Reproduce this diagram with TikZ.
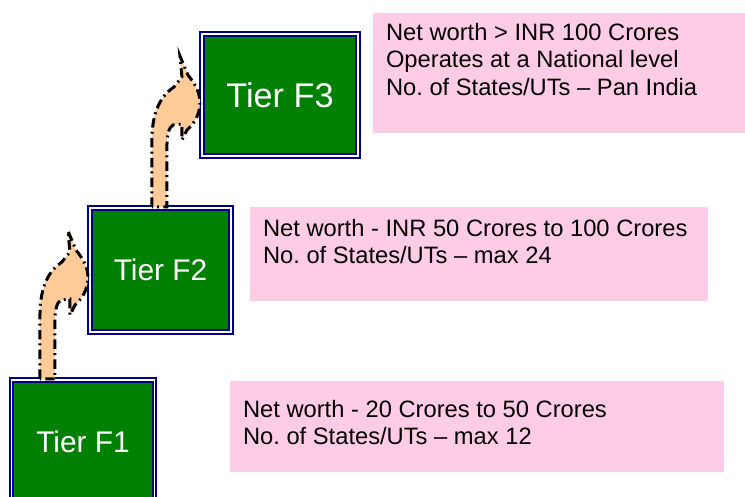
\documentclass[tikz,border=0pt]{standalone}
\usepackage{fontspec}
\setmainfont{Liberation Sans}
\usetikzlibrary{calc}
\definecolor{tiergreen}{RGB}{0,128,0}
\definecolor{tiernavy}{RGB}{0,0,128}
\definecolor{infopink}{RGB}{255,204,230}
\definecolor{arrowpeach}{RGB}{255,204,153}
\frenchspacing

\begin{document}
\begin{tikzpicture}[x=0.02cm,y=-0.02cm,
  tierbox/.style={draw=tiernavy,line width=1.2pt,double=white,double distance=0.8pt,fill=tiergreen,inner sep=0pt,text=white},
  infobox/.style={fill=infopink,inner sep=0pt},
  infotext/.style={font=\fontsize{13.5}{15.7}\selectfont,align=left,inner sep=0pt,anchor=north west},
  tierarrow/.style={fill=arrowpeach,draw=black,line width=1.7pt,dash pattern=on 5.4pt off 2.4pt on 1.1pt off 2.4pt,line join=miter}]
\useasboundingbox (0,0) rectangle (745,497);
% tiers
\node[tierbox,minimum width=2.86cm,minimum height=2.48cm,font=\fontsize{17}{20}\selectfont] (f1) at (83,442) {Tier F1};
\node[tierbox,minimum width=2.82cm,minimum height=2.48cm,font=\fontsize{17}{20}\selectfont] (f2) at (160.5,270) {Tier F2};
\node[tierbox,minimum width=3.12cm,minimum height=2.44cm,font=\fontsize{19.5}{23}\selectfont] (f3) at (280,95) {Tier F3};
% criteria
\node[infobox,minimum width=7.44cm,minimum height=2.4cm] (i3) at (559,73) {};
\node[infobox,minimum width=9.16cm,minimum height=1.88cm] (i2) at (479,254) {};
\node[infobox,minimum width=9.88cm,minimum height=1.82cm] (i1) at (477,426.5) {};
\node[infotext] (t3) at ($(i3.north west)+(13,10)$) {Net worth > INR 100 Crores\\Operates at a National level\\No. of States/UTs -- Pan India};
\node[infotext] (t2) at ($(i2.north west)+(13,12)$) {Net worth - INR 50 Crores to 100 Crores\\No. of States/UTs -- max 24};
\node[infotext] (t1) at ($(i1.north west)+(13,19)$) {Net worth - 20 Crores to 50 Crores\\No. of States/UTs -- max 12};
% curved arrows up
\foreach \s/\t in {f1/f2,f2/f3}{
  \coordinate (shl) at ($(\t.west)+(-49,0)$);
  \coordinate (shr) at ($(\t.west)+(-34,0)$);
  \draw[tierarrow] (shl |- \s.north) -- ($(\t.west)+(-49,45)$)
    .. controls ($(\t.west)+(-49,15)$) and ($(\t.west)+(-39,0)$) .. ($(\t.west)+(-27,-8)$)
    -- ($(\t.west)+(-19,-18)$) -- ($(\t.west)+(-21,-39)$) -- ($(\t.west)+(-13,-20)$)
    .. controls ($(\t.west)+(-5,-10)$) and ($(\t.west)+(-1,-2)$) .. ($(\t.west)+(-1,8)$)
    .. controls ($(\t.west)+(-1,20)$) and ($(\t.west)+(-8,30)$) .. ($(\t.west)+(-14,35)$)
    -- ($(\t.west)+(-19,45)$) -- ($(\t.west)+(-19,29)$) -- ($(\t.west)+(-28,30)$)
    .. controls ($(\t.west)+(-32,32)$) and ($(\t.west)+(-34,40)$) .. ($(\t.west)+(-34,50)$)
    -- (shr |- \s.north) -- cycle;
}
\end{tikzpicture}
\end{document}
